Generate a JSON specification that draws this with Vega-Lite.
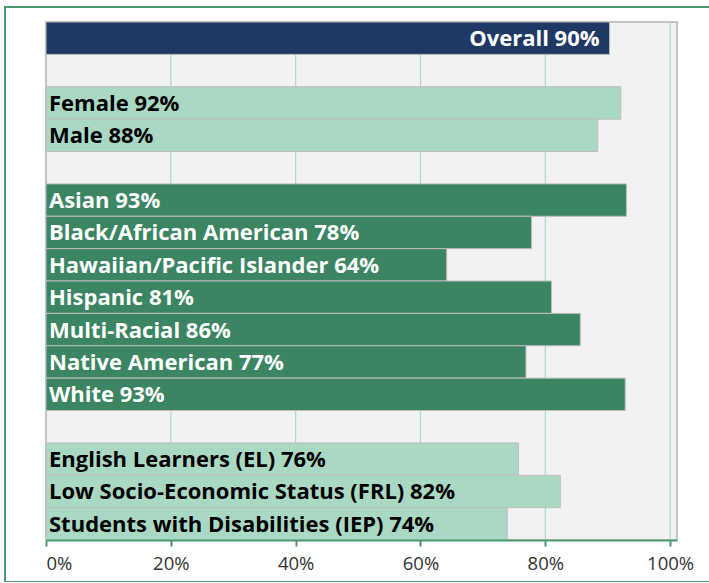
{
  "$schema": "https://vega.github.io/schema/vega-lite/v6.json",
  "width": 720,
  "height": 575,
  "padding": {"left": 5, "top": 7, "right": 0, "bottom": 0},
  "autosize": {"type": "none"},
  "background": "#ffffff",
  "config": {
    "view": {"stroke": "#4a9a72", "strokeWidth": 2, "fill": "#ffffff"},
    "font": "Open Sans"
  },
  "data": {
    "values": [
      {"category": "Overall", "group": "Overall", "value": 90.3, "label": "Overall 90%"},
      {"category": "Female", "group": "Gender", "value": 92.1, "label": "Female 92%"},
      {"category": "Male", "group": "Gender", "value": 88.4, "label": "Male 88%"},
      {"category": "Asian", "group": "Race", "value": 93.0, "label": "Asian 93%"},
      {"category": "Black/African American", "group": "Race", "value": 77.8, "label": "Black/African American 78%"},
      {"category": "Hawaiian/Pacific Islander", "group": "Race", "value": 64.2, "label": "Hawaiian/Pacific Islander 64%"},
      {"category": "Hispanic", "group": "Race", "value": 81.0, "label": "Hispanic 81%"},
      {"category": "Multi-Racial", "group": "Race", "value": 85.6, "label": "Multi-Racial 86%"},
      {"category": "Native American", "group": "Race", "value": 76.9, "label": "Native American 77%"},
      {"category": "White", "group": "Race", "value": 92.8, "label": "White 93%"},
      {"category": "English Learners (EL)", "group": "Program", "value": 75.7, "label": "English Learners (EL) 76%"},
      {"category": "Low Socio-Economic Status (FRL)", "group": "Program", "value": 82.4, "label": "Low Socio-Economic Status (FRL) 82%"},
      {"category": "Students with Disabilities (IEP)", "group": "Program", "value": 73.9, "label": "Students with Disabilities (IEP) 74%"}
    ]
  },
  "resolve": {"scale": {"y": "independent"}},
  "layer": [
    {
      "data": {"values": [{"panel": "plot"}]},
      "mark": {"type": "rect", "fill": "#f2f2f2", "stroke": "#b3b3b3", "strokeWidth": 1.5},
      "encoding": {
        "x": {"datum": 0, "type": "quantitative", "title": null,
          "scale": {"domain": [0, 101.1], "range": [41, 672], "nice": false, "zero": false},
          "axis": {
            "values": [0, 20, 40, 60, 80, 100],
            "labelExpr": "datum.value + '%'",
            "grid": false,
            "offset": -42,
            "domainColor": "#4a9a72",
            "domainWidth": 2,
            "tickColor": "#4a9a72",
            "tickWidth": 2,
            "tickSize": 6,
            "labelFontSize": 18.5,
            "labelColor": "#333333",
            "labelPadding": 8,
            "labelFont": "Open Sans",
            "zindex": 1
          }
        },
        "x2": {"datum": 101.1},
        "y": {"datum": 0, "type": "quantitative", "scale": {"domain": [0, 1], "range": [15, 533], "nice": false, "zero": false}, "axis": null},
        "y2": {"datum": 1}
      }
    },
    {
      "data": {"values": [{"tick": 20}, {"tick": 40}, {"tick": 60}, {"tick": 80}, {"tick": 100}]},
      "mark": {"type": "rule", "color": "#a9dac4", "strokeWidth": 1.2},
      "encoding": {
        "x": {"field": "tick", "type": "quantitative", "title": null},
        "y": {"datum": 0, "type": "quantitative", "scale": {"domain": [0, 1], "range": [15, 533], "nice": false, "zero": false}, "axis": null},
        "y2": {"datum": 1}
      }
    },
    {
      "mark": {"type": "bar", "stroke": "#bdbdbd", "strokeWidth": 1},
      "encoding": {
        "y": {"field": "category", "type": "nominal", "axis": null,
          "scale": {"domain": ["Overall", " ", "Female", "Male", "  ", "Asian", "Black/African American", "Hawaiian/Pacific Islander", "Hispanic", "Multi-Racial", "Native American", "White", "   ", "English Learners (EL)", "Low Socio-Economic Status (FRL)", "Students with Disabilities (IEP)"],
            "range": [15, 533], "paddingInner": 0, "paddingOuter": 0}},
        "x": {"field": "value", "type": "quantitative", "title": null},
        "color": {"field": "group", "type": "nominal", "legend": null,
          "scale": {"domain": ["Overall", "Gender", "Race", "Program"], "range": ["#1f3864", "#a9d9c3", "#3b8563", "#a9d9c3"]}}
      }
    },
    {
      "transform": [{"filter": "datum.group !== 'Overall'"}],
      "mark": {"type": "text", "align": "left", "baseline": "middle", "dx": 3, "dy": 1, "fontSize": 22, "fontWeight": "bold", "font": "Open Sans"},
      "encoding": {
        "y": {"field": "category", "type": "nominal", "axis": null,
          "scale": {"domain": ["Overall", " ", "Female", "Male", "  ", "Asian", "Black/African American", "Hawaiian/Pacific Islander", "Hispanic", "Multi-Racial", "Native American", "White", "   ", "English Learners (EL)", "Low Socio-Economic Status (FRL)", "Students with Disabilities (IEP)"],
            "range": [15, 533], "paddingInner": 0, "paddingOuter": 0}},
        "x": {"datum": 0, "type": "quantitative", "title": null},
        "text": {"field": "label"},
        "color": {"condition": {"test": "datum.group === 'Race'", "value": "#ffffff"}, "value": "#000000"}
      }
    },
    {
      "transform": [{"filter": "datum.group === 'Overall'"}],
      "mark": {"type": "text", "align": "right", "baseline": "middle", "dx": -10, "dy": 1, "fontSize": 22, "fontWeight": "bold", "color": "#ffffff", "font": "Open Sans"},
      "encoding": {
        "y": {"field": "category", "type": "nominal", "axis": null,
          "scale": {"domain": ["Overall", " ", "Female", "Male", "  ", "Asian", "Black/African American", "Hawaiian/Pacific Islander", "Hispanic", "Multi-Racial", "Native American", "White", "   ", "English Learners (EL)", "Low Socio-Economic Status (FRL)", "Students with Disabilities (IEP)"],
            "range": [15, 533], "paddingInner": 0, "paddingOuter": 0}},
        "x": {"field": "value", "type": "quantitative", "title": null},
        "text": {"field": "label"}
      }
    }
  ]
}
